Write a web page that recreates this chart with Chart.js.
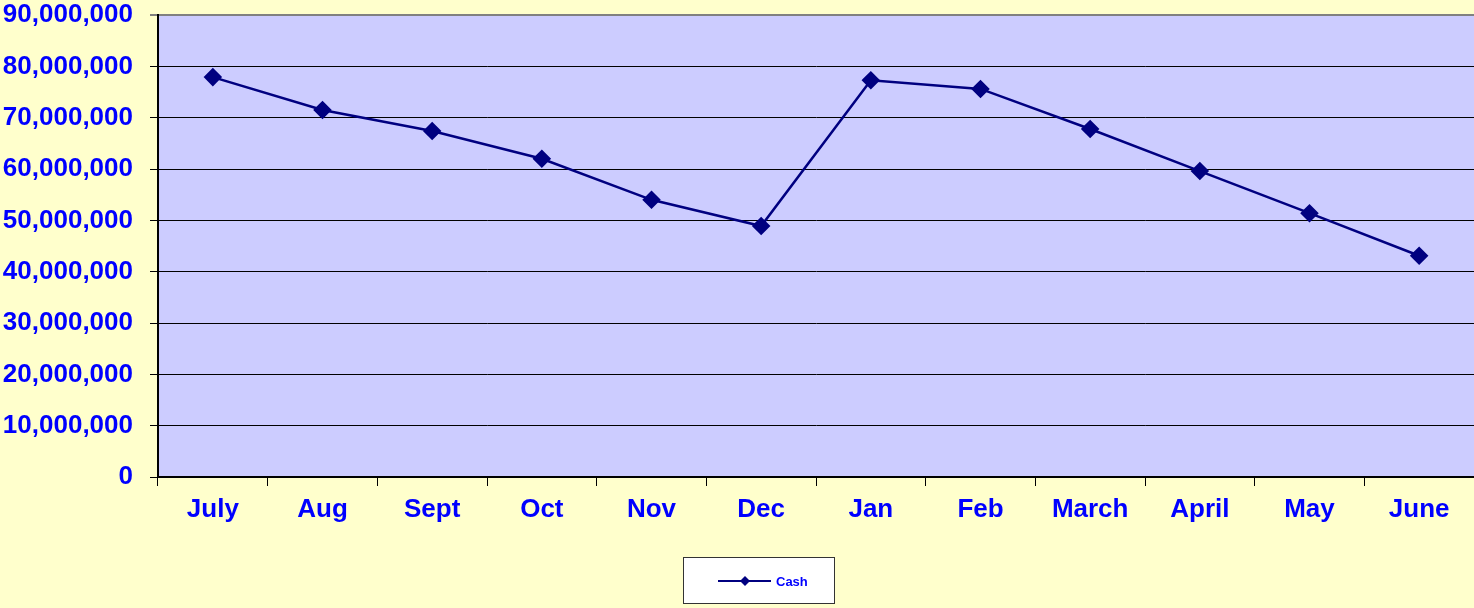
<!DOCTYPE html>
<html>
<head>
<meta charset="utf-8">
<script src="https://cdn.jsdelivr.net/npm/chart.js"></script>
<style>
  html, body { margin: 0; padding: 0; background: #FFFFCC; }
  #wrap { width: 1474px; height: 608px; }
</style>
</head>
<body>
<div id="wrap"><canvas id="myChart" width="1474" height="608"></canvas></div>
<script>
// chart data
const months = ["July", "Aug", "Sept", "Oct", "Nov", "Dec", "Jan", "Feb", "March", "April", "May", "June"];
const cash = [77900000, 71500000, 67400000, 62000000, 54000000, 48900000, 77300000, 75600000, 67800000, 59600000, 51400000, 43100000];
const yTicks = [0, 10000000, 20000000, 30000000, 40000000, 50000000, 60000000, 70000000, 80000000, 90000000];
const seriesName = "Cash";

const navy = "#000080";
const labelBlue = "#0000FF";

// paint yellow page + lavender plot
const bgPlugin = {
  id: "bg",
  beforeDraw(chart) {
    const c = chart.ctx, a = chart.chartArea;
    c.save();
    c.fillStyle = "#FFFFCC";
    c.fillRect(0, 0, chart.width, chart.height);
    c.fillStyle = "#CCCCFF";
    c.fillRect(a.left, a.top, a.right - a.left, a.bottom - a.top);
    c.restore();
  }
};

// legend box like the excel one
const legendBox = {
  id: "legendBox",
  afterDraw(chart) {
    const c = chart.ctx;
    c.save();
    c.fillStyle = "#FFFFFF";
    c.fillRect(683, 557, 152, 47);
    c.strokeStyle = "#333333";
    c.lineWidth = 1;
    c.strokeRect(683.5, 557.5, 151, 46);
    c.strokeStyle = navy;
    c.lineWidth = 2;
    c.beginPath();
    c.moveTo(718, 581);
    c.lineTo(771, 581);
    c.stroke();
    c.fillStyle = navy;
    c.beginPath();
    c.moveTo(745, 576);
    c.lineTo(750, 581);
    c.lineTo(745, 586);
    c.lineTo(740, 581);
    c.closePath();
    c.fill();
    c.fillStyle = labelBlue;
    c.font = "bold 13px 'Liberation Sans', Arial, sans-serif";
    c.textBaseline = "middle";
    c.fillText(seriesName, 776, 582);
    c.restore();
  }
};

const ctx = document.getElementById("myChart");

new Chart(ctx, {
  type: "line",
  data: {
    labels: months,
    datasets: [{
      label: seriesName,
      data: cash,
      borderColor: navy,
      backgroundColor: navy,
      borderWidth: 2.5,
      pointStyle: "rectRot",
      pointRadius: 7.5,
      pointHoverRadius: 7.5,
      tension: 0
    }]
  },
  options: {
    responsive: false,
    animation: false,
    layout: { autoPadding: false, padding: 0 },
    plugins: {
      legend: { display: false },
      tooltip: { enabled: false }
    },
    scales: {
      x: {
        offset: true,
        afterFit(scale) {
          scale.height = 131;
          scale.paddingLeft = 0;
          scale.paddingRight = 0;
        },
        grid: {
          offset: true,
          drawOnChartArea: false,
          drawTicks: true,
          tickLength: 9,
          color: "#000000"
        },
        border: { display: true, color: "#000000", width: 2 },
        ticks: {
          color: labelBlue,
          padding: 8,
          font: { family: "'Liberation Sans', Arial, sans-serif", size: 26, weight: "bold" }
        }
      },
      y: {
        min: 0,
        max: 90000000,
        afterFit(scale) {
          scale.width = 158;
          scale.paddingTop = 15;
          scale.paddingBottom = 0;
        },
        afterBuildTicks(scale) { scale.ticks = yTicks.map(v => ({ value: v })); },
        grid: {
          color: (c) => c.index === yTicks.length - 1 ? "#808080" : "#000000",
          lineWidth: (c) => c.index === yTicks.length - 1 ? 2 : 1,
          tickLength: 8
        },
        border: { display: true, color: "#000000", width: 2 },
        ticks: {
          color: labelBlue,
          padding: 17,
          font: { family: "'Liberation Sans', Arial, sans-serif", size: 26, weight: "bold" },
          callback: (v) => v.toLocaleString("en-US")
        }
      }
    }
  },
  plugins: [bgPlugin, legendBox]
});
</script>
</body>
</html>
